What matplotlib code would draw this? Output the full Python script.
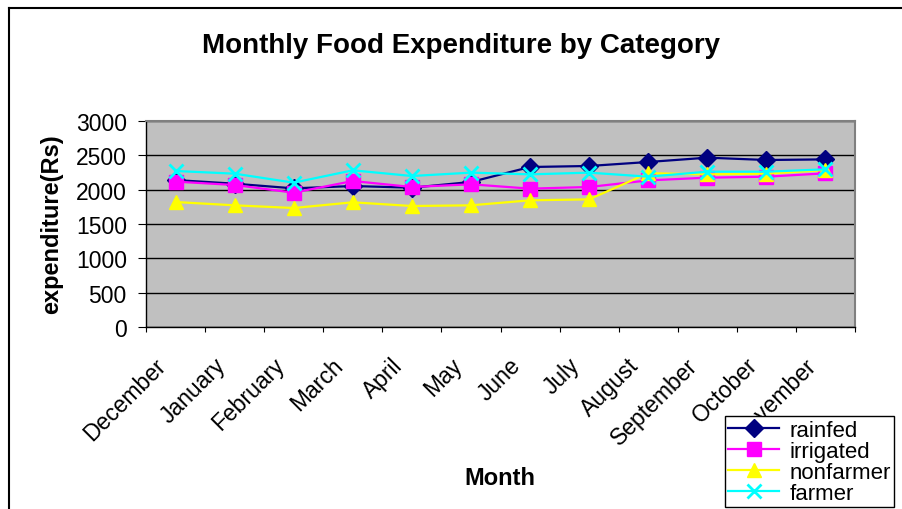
import matplotlib
matplotlib.use("Agg")
import matplotlib.pyplot as plt
import numpy as np
from matplotlib.lines import Line2D
from matplotlib.transforms import ScaledTranslation

plt.rcParams['font.family'] = ['Liberation Sans', 'DejaVu Sans']

months = ["December", "January", "February", "March", "April", "May", "June",
          "July", "August", "September", "October", "November"]
rainfed = [2140, 2087, 2019, 2053, 2029, 2112, 2330, 2345, 2403, 2466, 2432, 2441]
irrigated = [2117, 2068, 1956, 2126, 2039, 2078, 2015, 2039, 2135, 2175, 2189, 2238]
nonfarmer = [1820, 1772, 1733, 1816, 1762, 1772, 1845, 1859, 2240, 2223, 2233, 2286]
farmer = [2272, 2233, 2102, 2282, 2199, 2248, 2223, 2248, 2189, 2262, 2262, 2296]
yticks = [0, 500, 1000, 1500, 2000, 2500, 3000]

W, H = 902, 510
fig = plt.figure(figsize=(W / 100, H / 100), dpi=100)
fig.patch.set_facecolor('white')

# outer chart frame (top and left visible)
fig.add_artist(Line2D([9 / W, 9 / W], [0, 1 - 9 / H], transform=fig.transFigure, color='black', lw=1.5))
fig.add_artist(Line2D([9 / W, 1], [1 - 9 / H, 1 - 9 / H], transform=fig.transFigure, color='black', lw=1.5))

ax = fig.add_axes([146 / W, 1 - 328 / H, (855 - 146) / W, (328 - 122) / H])
ax.set_facecolor('#C0C0C0')
x = np.arange(len(months))

ax.plot(x, rainfed, color='#000080', marker='D', ms=9, lw=1.6, label='rainfed', zorder=3)
ax.plot(x, irrigated, color='#FF00FF', marker='s', ms=9.5, lw=1.6, label='irrigated', zorder=3)
ax.plot(x, nonfarmer, color='#FFFF00', marker='^', ms=10.5, lw=1.6, label='nonfarmer', zorder=3)
ax.plot(x, farmer, color='#00FFFF', marker='x', ms=10, mew=2, lw=1.6, label='farmer', zorder=3)

ax.set_xlim(-0.5, len(months) - 0.5)
ax.set_ylim(0, 3000)
ax.set_yticks(yticks)
ax.set_yticklabels([str(v) for v in yticks], fontsize=16.5)
ax.yaxis.grid(True, color='black', lw=1)
ax.set_axisbelow(True)

ax.set_xticks(np.arange(-0.5, len(months), 1))
ax.set_xticklabels([])
ax.set_xticks(x, minor=True)
ax.set_xticklabels(months, minor=True, rotation=45, ha='right', va='top',
                   rotation_mode='anchor', fontsize=16.5)
ax.tick_params(axis='x', which='minor', length=0, pad=0)
ax.tick_params(axis='x', which='major', length=3.6, direction='out', color='black')
ax.tick_params(axis='y', length=5.8, pad=8, direction='out', color='black')
off = ScaledTranslation(-0.21, -0.26, fig.dpi_scale_trans)
for lab in ax.get_xticklabels(minor=True):
    lab.set_transform(lab.get_transform() + off)

for s in ['top', 'right']:
    ax.spines[s].set_color('#808080')
    ax.spines[s].set_linewidth(1.5)
for s in ['left', 'bottom']:
    ax.spines[s].set_color('black')
    ax.spines[s].set_linewidth(1)

fig.text(461 / W, 1 - 53 / H, 'Monthly Food Expenditure by Category', ha='center', va='baseline',
         fontsize=20, fontweight='bold')
fig.text(52 / W, 1 - 224 / H, 'expenditure(Rs)', ha='center', va='center', rotation=90,
         fontsize=17, fontweight='bold')
fig.text(500 / W, 1 - 485 / H, 'Month', ha='center', va='baseline', fontsize=17, fontweight='bold')

leg = fig.legend(loc='lower left', bbox_to_anchor=(725 / W, 2 / H), fontsize=16,
                 frameon=True, fancybox=False, edgecolor='black', framealpha=1,
                 borderpad=0.15, labelspacing=0.0, handlelength=2.3, handletextpad=0.45,
                 borderaxespad=0)
leg.get_frame().set_linewidth(1)
leg.set_zorder(10)

fig.savefig('out.png', dpi=100, facecolor='white')
